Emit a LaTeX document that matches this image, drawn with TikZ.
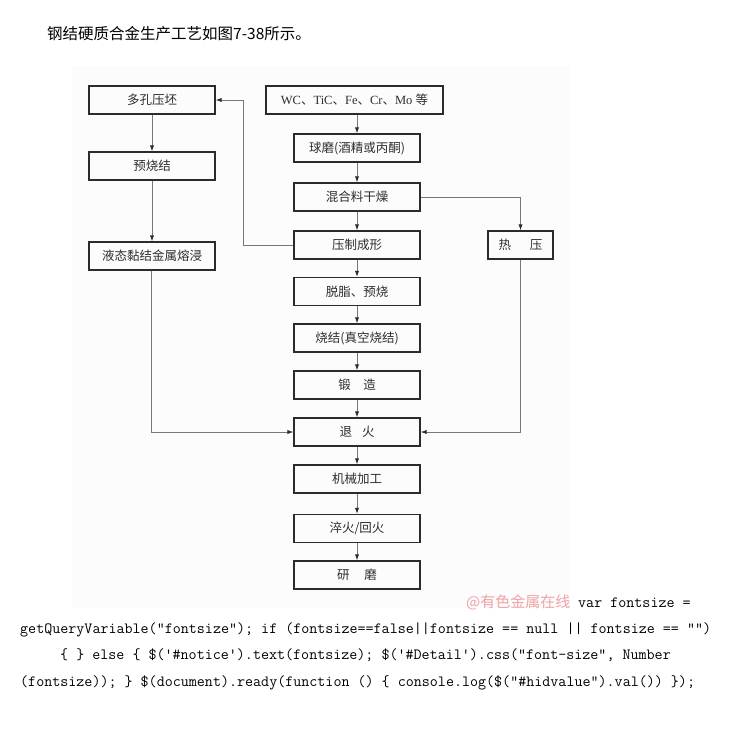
\documentclass[tikz,border=0pt]{standalone}
\usepackage{fontspec}
\setmainfont{Liberation Serif}
\newfontfamily\cjk{Noto Sans CJK SC}
\newfontfamily\lat{Liberation Serif}
\usetikzlibrary{arrows.meta}
\definecolor{boxline}{HTML}{2B2B2B}
\definecolor{conline}{HTML}{777777}
\definecolor{txt}{HTML}{2E2E2E}
\definecolor{figbg}{HTML}{FCFCFC}
\definecolor{wmark}{HTML}{EFA3A6}
\begin{document}
\begin{tikzpicture}[x=1pt,y=-1pt,
  proc/.style={draw=boxline, line width=1.2pt, minimum height=28pt, minimum width=126pt,
    inner sep=0pt, font=\cjk\fontsize{12.5}{14}\selectfont, text=txt},
  conn/.style={draw=conline, line width=0.9pt, -{Latex[length=6pt,width=4.2pt,color=boxline]}},
  codeline/.style={anchor=base west, inner sep=0pt, font=\ttfamily\fontsize{15.6}{16}\selectfont, text=black}]
\useasboundingbox (0,0) rectangle (730,729);
\fill[white] (0,0) rectangle (730,729);
\fill[figbg] (72,66) rectangle (570,608);

\node[anchor=base west, inner sep=0pt, font=\cjk\fontsize{15.5}{17}\selectfont] (title) at (47,39) {钢结硬质合金生产工艺如图7-38所示。};

% left column
\node[proc] (dk) at (152,100) {多孔压坯};
\node[proc] (ysj) at (152,166) {预烧结};
\node[proc] (ytn) at (152,256) {液态黏结金属熔浸};

% main column
\node[proc, minimum width=177pt] (wc) at (354.5,100) {\lat WC{\cjk 、}TiC{\cjk 、}Fe{\cjk 、}Cr{\cjk 、}Mo {\cjk 等}};
\node[proc] (qm) at (357,148) {球磨(酒精或丙酮)};
\node[proc] (hh) at (357,197) {混合料干燥};
\node[proc] (yz) at (357,245) {压制成形};
\node[proc] (tz) at (357,291.5) {脱脂、预烧};
\node[proc] (sj) at (357,338) {烧结(真空烧结)};
\node[proc] (dz) at (357,385) {锻\hspace{1em}造};
\node[proc] (th) at (357,432) {退\hspace{0.8em}火};
\node[proc] (jx) at (357,479) {机械加工};
\node[proc] (cf) at (357,528.5) {淬火/回火};
\node[proc] (ym) at (357,575) {研\hspace{1.2em}磨};

% right
\node[proc, minimum width=65pt] (ry) at (520.5,245) {热\hspace{1.5em}压};

\coordinate (c1) at (243,245);
\coordinate (c2) at (243,100);
\coordinate (c3) at (520.5,197);
\coordinate (c4) at (151,432);
\coordinate (c5) at (520.5,432);

\draw[conn] (wc.south -| qm.north) -- (qm.north);
\draw[conn] (qm) -- (hh);
\draw[conn] (hh) -- (yz);
\draw[conn] (yz) -- (tz);
\draw[conn] (tz) -- (sj);
\draw[conn] (sj) -- (dz);
\draw[conn] (dz) -- (th);
\draw[conn] (th) -- (jx);
\draw[conn] (jx) -- (cf);
\draw[conn] (cf) -- (ym);
\draw[conn] (dk) -- (ysj);
\draw[conn] (ysj) -- (ytn);
\draw[conn] (yz.west) -- (c1) -- (c2) -- (dk.east);
\draw[conn] (hh.east) -- (c3) -- (ry.north);
\draw[conn] (ytn.south -| c4) -- (c4) -- (th.west);
\draw[conn] (ry.south) -- (c5) -- (th.east);

% watermark and page text
\node[anchor=base west, inner sep=0pt, font=\cjk\fontsize{15}{16}\selectfont, text=wmark] (wm) at (466,607) {@有色金属在线};
\node[codeline] (l1) at (578,607) {var fontsize =};
\node[codeline] (l2) at (20,633) {getQueryVariable("fontsize"); if (fontsize==false||fontsize == null || fontsize == "")};
\node[codeline] (l3) at (60,659) {\{ \} else \{ \$('\#notice').text(fontsize); \$('\#Detail').css("font-size", Number};
\node[codeline] (l4) at (20,686) {(fontsize)); \} \$(document).ready(function () \{ console.log(\$("\#hidvalue").val()) \});};
\end{tikzpicture}
\end{document}
